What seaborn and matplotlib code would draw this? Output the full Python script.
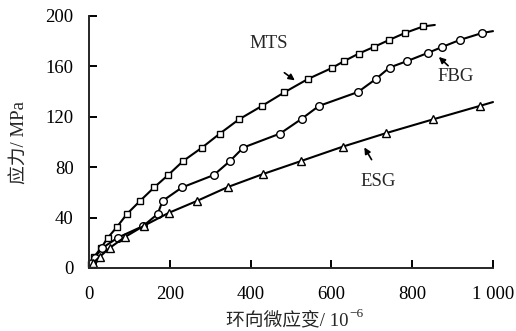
import matplotlib
matplotlib.use("Agg")
import matplotlib.pyplot as plt
import numpy as np
import pandas as pd
import seaborn as sns

# data (strain in 1e-6, stress in MPa)
mts_x = [5, 12, 30, 46, 69, 94, 125, 161, 196, 233, 280, 324, 371, 428, 483, 542,
         601, 632, 668, 705, 743, 782, 827]
mts_y = [3, 8.7, 15.9, 23.8, 32.5, 42.9, 52.8, 63.9, 73.8, 84.9, 95.6, 106.7, 117.9,
         128.6, 139.3, 150, 158.7, 164.3, 170.2, 175.4, 181, 186.5, 191.7]
mts_end = (856, 192.9)

fbg_x = [7, 14, 33, 72, 134, 170, 182, 230, 309, 349, 382, 473, 526, 569, 666, 710,
         744, 788, 838, 874, 918, 973]
fbg_y = [4, 8.3, 15.9, 24.2, 33.3, 42.9, 53.2, 63.9, 73.8, 84.9, 95.6, 106.7, 118.3,
         128.6, 139.7, 150, 159.1, 164.3, 170.6, 175.4, 181, 186.5]
fbg_end = (1000, 188)

esg_x = [10, 26, 51, 89, 137, 197, 267, 344, 431, 525, 629, 736, 851, 967]
esg_y = [4, 8.7, 15.9, 24.6, 33.7, 43.7, 53.2, 64.3, 74.6, 84.9, 96.4, 107.1, 117.9, 128.6]
esg_end = (1000, 131.7)

x_ticks = [0, 200, 400, 600, 800, 1000]
x_ticklabels = ["0", "200", "400", "600", "800", "1 000"]
y_ticks = [0, 40, 80, 120, 160, 200]

sns.set_style("ticks")
plt.rcParams['font.family'] = ['Liberation Serif', 'Noto Sans CJK SC', 'DejaVu Sans']

fig = plt.figure(figsize=(5.16, 3.31), dpi=100)
ax = fig.add_axes([89 / 516, 63 / 331, 404 / 516, 252 / 331])

series = [("MTS", mts_x, mts_y, mts_end, "s", 5.0),
          ("FBG", fbg_x, fbg_y, fbg_end, "o", 5.5),
          ("ESG", esg_x, esg_y, esg_end, "^", 6.0)]

for name, xs, ys, end, mk, ms in series:
    # line continues a little past the last marker
    df_line = pd.DataFrame({"x": xs + [end[0]], "y": ys + [end[1]]})
    sns.lineplot(data=df_line, x="x", y="y", ax=ax, color="black", lw=1.5,
                 sort=False, legend=False, clip_on=False)
    df = pd.DataFrame({"x": xs, "y": ys})
    sns.lineplot(data=df, x="x", y="y", ax=ax, color="black", lw=0, marker=mk,
                 markersize=ms, markerfacecolor="white", markeredgecolor="black",
                 markeredgewidth=1.0, sort=False, legend=False, clip_on=False)

ax.set_xlim(0, 1000)
ax.set_ylim(0, 200)
ax.set_xticks(x_ticks)
ax.set_xticklabels(x_ticklabels)
ax.set_yticks(y_ticks)
sns.despine(ax=ax)
for s in ["left", "bottom"]:
    ax.spines[s].set_linewidth(1.4)
ax.tick_params(axis="both", direction="in", length=6, width=1.4, labelsize=13.5,
               colors="black")
ax.tick_params(axis="x", pad=13)
ax.tick_params(axis="y", pad=11)

# x label: chinese text + superscript exponent as a separate text
xl = ax.set_xlabel("环向微应变/ 10", fontsize=13.5, labelpad=6)
xl.set_x(0.49)
ax.annotate("−6", xy=(1, 1), xycoords=xl, xytext=(0.5, 2.5), textcoords="offset points",
            fontsize=9.5, ha="left", va="top", annotation_clip=False)
ax.set_ylabel("应力/ MPa", fontsize=13.5, labelpad=12)

# curve labels with arrows
ax.annotate("", xy=(515, 147.6), xytext=(478, 156.3),
            arrowprops=dict(arrowstyle="-|>", color="black", lw=1.2, mutation_scale=9))
ax.text(446, 177.8, "MTS", fontsize=13.5, ha="center", va="center")
ax.annotate("", xy=(861, 169), xytext=(894, 159),
            arrowprops=dict(arrowstyle="-|>", color="black", lw=1.2, mutation_scale=9))
ax.text(908, 151.6, "FBG", fontsize=13.5, ha="center", va="center")
ax.annotate("", xy=(678, 97.6), xytext=(703, 84.1),
            arrowprops=dict(arrowstyle="-|>", color="black", lw=1.2, mutation_scale=9))
ax.text(715, 68.3, "ESG", fontsize=13.5, ha="center", va="center")

fig.savefig("out.png", dpi=100)
